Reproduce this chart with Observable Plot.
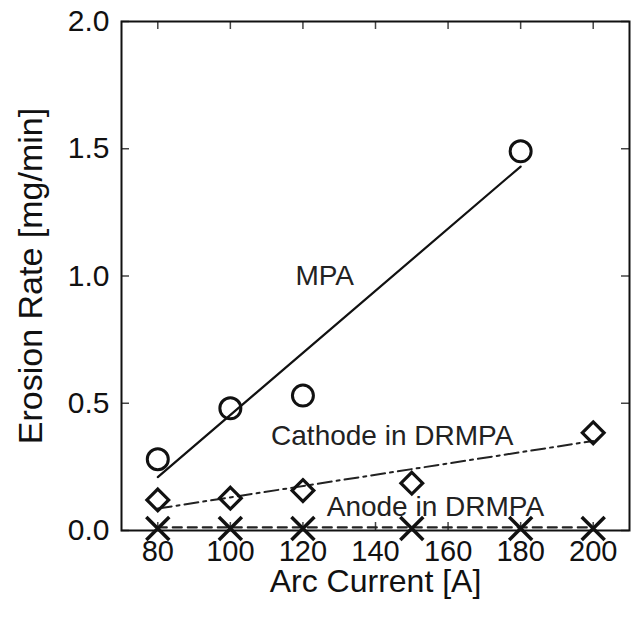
<!DOCTYPE html>
<html><head><meta charset="utf-8">
<script src="https://cdn.jsdelivr.net/npm/d3@7"></script>
<script src="https://cdn.jsdelivr.net/npm/@observablehq/plot@0.6"></script>
<style>body{margin:0;background:#fff}</style>
</head><body><div id="chart"></div>
<script>
const mpaCurrent = [80, 100, 120, 180];
const mpaRate = [0.28, 0.48, 0.53, 1.49];
const cathodeCurrent = [80, 100, 120, 150, 200];
const cathodeRate = [0.12, 0.127, 0.157, 0.186, 0.384];
const anodeCurrent = [80, 100, 120, 150, 180, 200];
const anodeRate = [0.008, 0.008, 0.008, 0.008, 0.008, 0.008];
// Fit lines
const mpaFitCurrent = [80, 180];
const mpaFitRate = [0.21, 1.43];
const cathodeFitCurrent = [80, 200];
const cathodeFitRate = [0.086, 0.352];
const anodeFitCurrent = [80, 200];
const anodeFitRate = [0.012, 0.012];
// Ticks
const xTicks = [80, 100, 120, 140, 160, 180, 200];
const yTicks = [0, 0.5, 1.0, 1.5, 2.0];
// Annotations
const labelText = ["MPA", "Cathode in DRMPA", "Anode in DRMPA"];
const labelCurrent = [126, 144.6, 156.5];
const labelRate = [1.0, 0.373, 0.094];

const zip = (xs, ys) => xs.map((x, i) => ({x, y: ys[i]}));
const mpa = zip(mpaCurrent, mpaRate);
const cathode = zip(cathodeCurrent, cathodeRate);
const anode = zip(anodeCurrent, anodeRate);
const labels = labelText.map((t, i) => ({t, x: labelCurrent[i], y: labelRate[i]}));
const fmt = d3.format(".1f");

const ink = "#111";
const chart = Plot.plot({
  width: 637, height: 621,
  marginLeft: 121, marginRight: 8, marginTop: 21, marginBottom: 91,
  style: {fontFamily: "'Liberation Sans', Arial, sans-serif", color: ink, background: "#fff"},
  x: {domain: [70, 210], axis: null},
  y: {domain: [0, 2], axis: null},
  marks: [
    Plot.text(xTicks, {x: d => d, text: d => String(d), frameAnchor: "bottom", dy: 10, lineAnchor: "top", fontSize: 29, fill: ink}),
    Plot.text(yTicks, {y: d => d, text: d => fmt(d), frameAnchor: "left", dx: -12, textAnchor: "end", lineAnchor: "middle", fontSize: 30, fill: ink}),
    Plot.tickX(xTicks, {x: d => d, insetTop: 501, stroke: "#444", strokeWidth: 1.5}),
    Plot.tickX(xTicks, {x: d => d, insetBottom: 501, stroke: "#444", strokeWidth: 1.5}),
    Plot.tickY(yTicks, {y: d => d, insetRight: 500, stroke: "#444", strokeWidth: 1.5}),
    Plot.tickY(yTicks, {y: d => d, insetLeft: 500, stroke: "#444", strokeWidth: 1.5}),
    Plot.frame({stroke: ink, strokeWidth: 2}),
    Plot.line(zip(mpaFitCurrent, mpaFitRate), {x: "x", y: "y", stroke: ink, strokeWidth: 2.2}),
    Plot.line(zip(cathodeFitCurrent, cathodeFitRate), {x: "x", y: "y", stroke: "#222", strokeWidth: 2, strokeDasharray: "14,5,3,5"}),
    Plot.line(zip(anodeFitCurrent, anodeFitRate), {x: "x", y: "y", stroke: "#222", strokeWidth: 2.2, strokeDasharray: "9,6"}),
    Plot.dot(mpa, {x: "x", y: "y", r: 10.5, symbol: "circle", stroke: ink, strokeWidth: 3, fill: "none"}),
    Plot.dot(cathode, {x: "x", y: "y", r: 9.8, symbol: "diamond2", stroke: ink, strokeWidth: 3.2, fill: "none"}),
    Plot.dot(anode, {x: "x", y: "y", r: 10.5, symbol: "times", stroke: ink, strokeWidth: 3.5}),
    Plot.text(labels, {x: "x", y: "y", text: "t", fontSize: 28, fill: "#222", textAnchor: "middle", lineAnchor: "middle"}),
    Plot.text(["Arc Current [A]"], {frameAnchor: "bottom", dy: 61, lineAnchor: "bottom", fontSize: 32, fill: ink}),
    Plot.text(["Erosion Rate [mg/min]"], {frameAnchor: "left", dx: -80, rotate: -90, lineAnchor: "bottom", textAnchor: "middle", fontSize: 34, fill: ink})
  ]
});
document.getElementById("chart").appendChild(chart);
</script>
</body></html>
